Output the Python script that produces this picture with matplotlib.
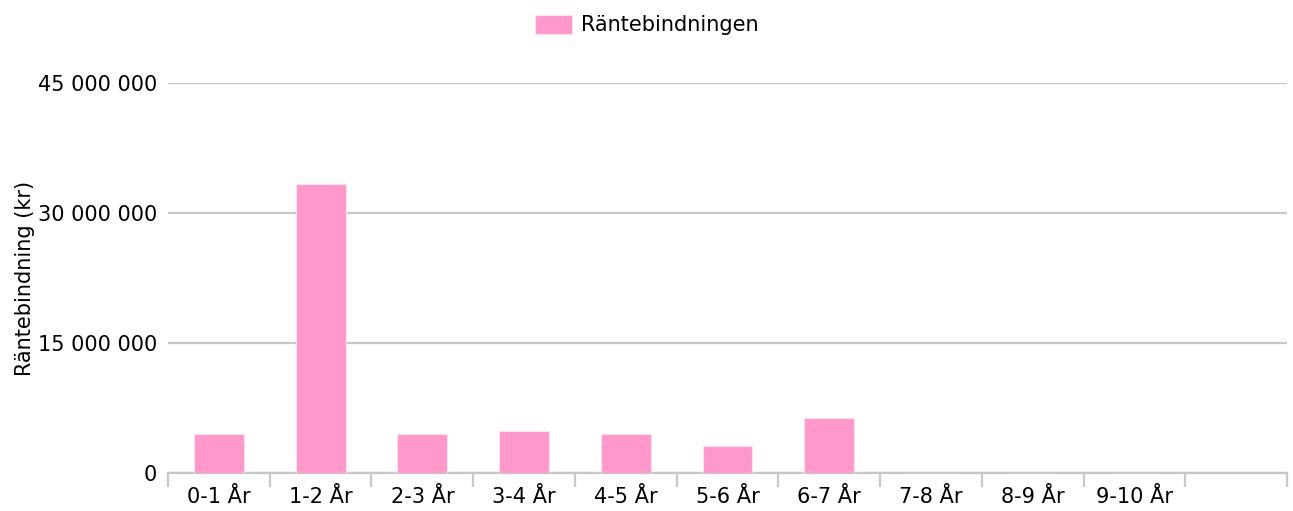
import matplotlib
matplotlib.use("Agg")
import matplotlib.pyplot as plt
from matplotlib.ticker import FuncFormatter, FixedLocator
import numpy as np

categories = ["0-1 År", "1-2 År", "2-3 År", "3-4 År", "4-5 År", "5-6 År",
              "6-7 År", "7-8 År", "8-9 År", "9-10 År"]
values = [4530000, 33300000, 4530000, 4880000, 4530000, 3120000, 6310000, 0, 0, 0]
n_slots = 11
series_name = "Räntebindningen"
ylabel = "Räntebindning (kr)"
yticks = [0, 15000000, 30000000, 45000000]

plt.rcParams['font.family'] = ['DejaVu Sans']
fig = plt.figure(figsize=(12.93, 5.11), dpi=100)
ax = fig.add_axes([168/1293, 1-473/511, (1287-168)/1293, (473-83)/511])

x = np.arange(len(categories))
ax.bar(x, values, width=0.49, color="#FF99CC", edgecolor="#FFE0F0", linewidth=0.8,
       label=series_name, zorder=3)

ax.set_xlim(-0.5, n_slots - 0.5)
ax.set_ylim(0, 45000000)
ax.set_yticks(yticks)
ax.yaxis.set_major_formatter(FuncFormatter(lambda v, p: f"{int(v):,}".replace(",", " ")))
ax.grid(axis="y", color="#C8C8C8", linewidth=1.6, zorder=0)
ax.tick_params(axis="y", length=0, pad=8, labelsize=15)

ax.xaxis.set_major_locator(FixedLocator(np.arange(n_slots + 1) - 0.5))
ax.xaxis.set_minor_locator(FixedLocator(x))
ax.set_xticklabels([], minor=False)
ax.set_xticklabels(categories, minor=True)
ax.tick_params(axis="x", which="major", length=10, width=1.6, color="#C8C8C8")
ax.tick_params(axis="x", which="minor", length=0, pad=10, labelsize=15)

for s in ["top", "right", "left"]:
    ax.spines[s].set_visible(False)
ax.spines["bottom"].set_color("#C8C8C8")
ax.spines["bottom"].set_linewidth(1.6)

ax.set_ylabel(ylabel, fontsize=15, labelpad=2)

fig.legend(loc="upper center", bbox_to_anchor=(0.5, 1.0), frameon=False, fontsize=15,
           handlelength=1.8, handleheight=1.05, handletextpad=0.4,
           borderaxespad=0.3)

fig.savefig("out.png", dpi=100)
